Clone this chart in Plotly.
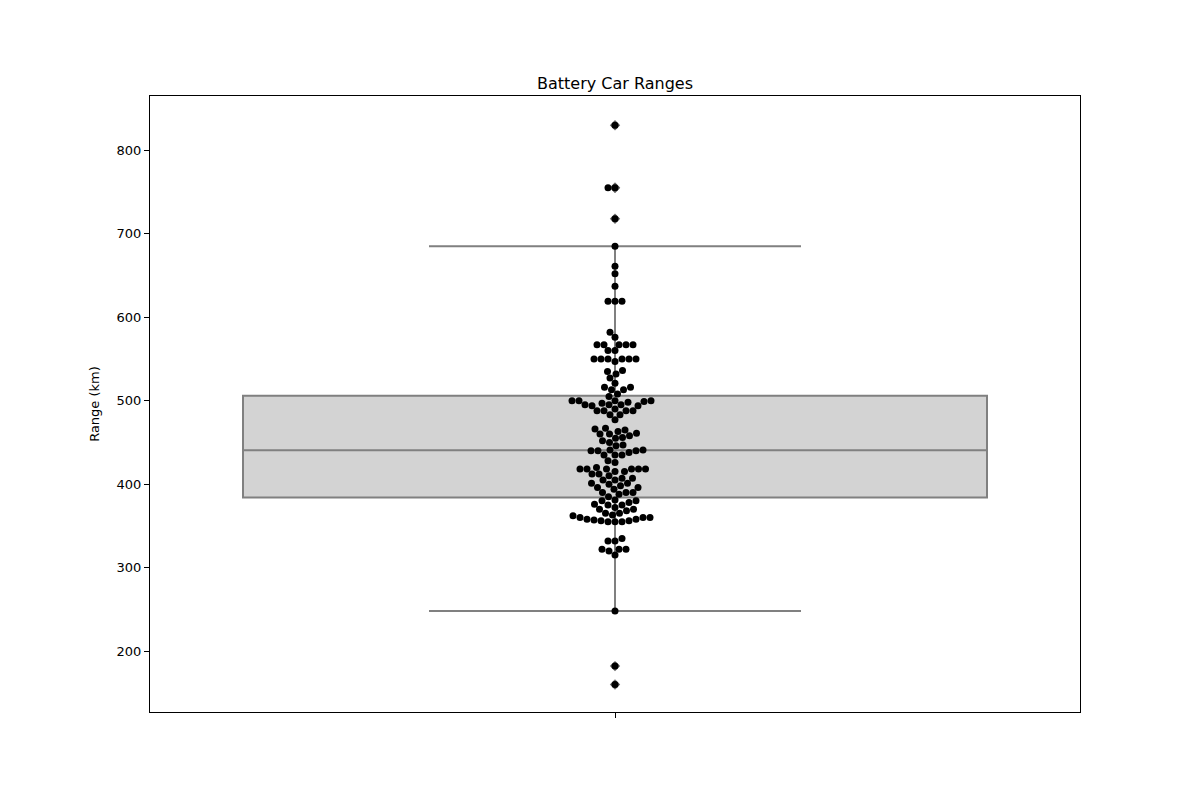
import numpy as np
import plotly.graph_objects as go

# Battery car ranges (km)
high_outliers = [830, 755, 755, 718]
upper_tail = [685, 661, 652, 637, 619, 619, 619, 582, 576, 567, 567, 567, 567, 567,
              560, 560, 550, 550, 550, 550, 550, 550, 547, 536, 535, 532, 527, 521,
              516, 516, 513, 513, 508]
band_500 = [505, 500, 500, 500, 500, 499, 498, 497, 495, 495, 495, 494, 494, 490,
            488, 488, 488, 488, 483, 483, 477]
band_460 = [467, 466, 465, 463, 461, 460, 460, 458, 456, 455, 452, 450, 447, 446, 441, 441]
band_440 = [440, 440, 440, 438, 435, 435, 435, 428, 426]
band_400 = [420, 418, 418, 418, 418, 418, 418, 415, 415, 412, 412, 410, 407, 407,
            405, 405, 401, 401, 400, 398, 396, 396, 394, 390, 390, 390, 388, 385]
band_360 = [381, 380, 380, 378, 376, 375, 375, 372, 370, 370, 368, 365, 365, 363,
            362, 360, 360, 360, 358, 358, 357, 356, 356, 355, 355, 355]
lower_tail = [335, 332, 332, 322, 322, 322, 320, 315, 248]
low_outliers = [182, 160]

ranges_km = (high_outliers + upper_tail + band_500 + band_460 + band_440 +
             band_400 + band_360 + lower_tail + low_outliers)
data = np.array(sorted(ranges_km), dtype=float)

# Box statistics (matplotlib/seaborn style)
q1, med, q3 = np.percentile(data, [25, 50, 75])
iqr = q3 - q1
lo_lim, hi_lim = q1 - 1.5 * iqr, q3 + 1.5 * iqr
lowerfence = data[data >= lo_lim].min()
upperfence = data[data <= hi_lim].max()
fliers = data[(data < lo_lim) | (data > hi_lim)]

# Beeswarm layout in pixel space
px_per_x = 930.0
px_per_y = 0.835
diam = 7.0
placed = []
xoff = []
for v in data:
    yp = v * px_per_y
    near = [(x, y) for x, y in placed if abs(yp - y) < diam]
    best = None
    k = 0
    while best is None:
        cands = [0.0] if k == 0 else [-k * 0.5, k * 0.5]
        for s in cands:
            if all((s - x) ** 2 + (yp - y) ** 2 >= diam * diam for x, y in near):
                best = s
                break
        k += 1
    placed.append((best, yp))
    xoff.append(best / px_per_x)

fig = go.Figure()
fig.add_trace(go.Box(
    x=[0], q1=[q1], median=[med], q3=[q3],
    lowerfence=[lowerfence], upperfence=[upperfence],
    width=0.8, whiskerwidth=0.5, boxpoints=False,
    fillcolor="#d3d3d3", line=dict(color="#808080", width=2),
    showlegend=False, hoverinfo="skip",
))
fig.add_trace(go.Scatter(
    x=[0] * len(fliers), y=fliers, mode="markers",
    marker=dict(symbol="diamond", size=8, color="#6a6a6a"),
    showlegend=False,
))
fig.add_trace(go.Scatter(
    x=xoff, y=data, mode="markers",
    marker=dict(size=7, color="black", line=dict(width=0)),
    showlegend=False,
))

fig.update_layout(
    width=1200, height=800,
    margin=dict(l=150, r=120, t=96, b=88),
    paper_bgcolor="white", plot_bgcolor="white",
    font=dict(family="DejaVu Sans", color="black", size=13),
    title=dict(text="Battery Car Ranges", x=0.5125, xanchor="center",
               y=1 - 83 / 800, yanchor="middle", font=dict(size=16)),
)
fig.update_xaxes(range=[-0.5, 0.5], tickvals=[0], ticktext=[""],
                 ticks="outside", ticklen=5, tickcolor="black",
                 showline=True, mirror=True, linecolor="black", linewidth=1,
                 showgrid=False, zeroline=False)
fig.update_yaxes(range=[127, 865], tickvals=[200, 300, 400, 500, 600, 700, 800],
                 ticks="outside", ticklen=5, tickcolor="black",
                 tickfont=dict(size=13),
                 showline=True, mirror=True, linecolor="black", linewidth=1,
                 showgrid=False, zeroline=False,
                 title=dict(text="Range (km)", standoff=14, font=dict(size=13)))

fig.write_html("out.html")
